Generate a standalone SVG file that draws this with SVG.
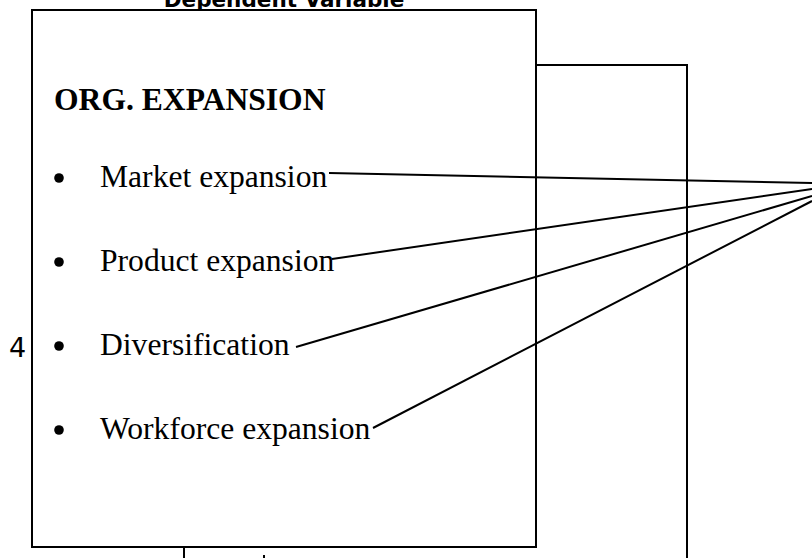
<svg xmlns="http://www.w3.org/2000/svg" width="812" height="558" viewBox="0 0 812 558">
  <style>
    .frame { fill: #ffffff; stroke: #000000; stroke-width: 2; }
    .edge { fill: none; stroke: #000000; stroke-width: 2; }
    .head { font-family: "Liberation Serif", "Times New Roman", serif; font-weight: bold; font-size: 31.6px; fill: #000000; }
    .item { font-family: "Liberation Serif", "Times New Roman", serif; font-size: 31.6px; fill: #000000; }
    .title { font-family: "DejaVu Sans", Verdana, sans-serif; font-weight: bold; font-size: 21.5px; fill: #000000; }
    .num { font-family: "DejaVu Sans", Verdana, sans-serif; font-size: 27px; fill: #000000; }
    .dot { fill: #000000; }
  </style>

  <rect width="812" height="558" fill="#ffffff"/>

  <!-- heading for the variable box, clipped by the top edge -->
  <text class="title" x="284" y="7" text-anchor="middle">Dependent Variable</text>

  <!-- second box sitting behind the main one -->
  <g id="node-back-box">
    <path class="edge" d="M536 65 H687 V560"/>
  </g>

  <!-- main box with the dependent variable and its indicators -->
  <g id="node-org-expansion">
    <rect class="frame" x="32" y="10" width="504" height="537"/>
    <text class="head" x="54" y="110">ORG. EXPANSION</text>
    <circle class="dot" cx="59" cy="178" r="4.8"/>
    <text class="item" x="100" y="187">Market expansion</text>
    <circle class="dot" cx="59" cy="262" r="4.8"/>
    <text class="item" x="100" y="271">Product expansion</text>
    <circle class="dot" cx="59" cy="346" r="4.8"/>
    <text class="item" x="100" y="355">Diversification</text>
    <circle class="dot" cx="59" cy="430" r="4.8"/>
    <text class="item" x="100" y="439">Workforce expansion</text>
  </g>

  <!-- number beside the box -->
  <text class="num" x="9" y="357">4</text>

  <!-- connectors from each indicator towards the right -->
  <g id="connectors">
    <line class="edge" x1="329" y1="173" x2="812" y2="183"/>
    <line class="edge" x1="332" y1="259" x2="812" y2="189"/>
    <line class="edge" x1="296" y1="347" x2="812" y2="196"/>
    <line class="edge" x1="373" y1="428" x2="812" y2="201"/>
    <line class="edge" x1="184" y1="547" x2="184" y2="560"/>
    <line class="edge" x1="264" y1="555" x2="264" y2="560"/>
  </g>
</svg>
